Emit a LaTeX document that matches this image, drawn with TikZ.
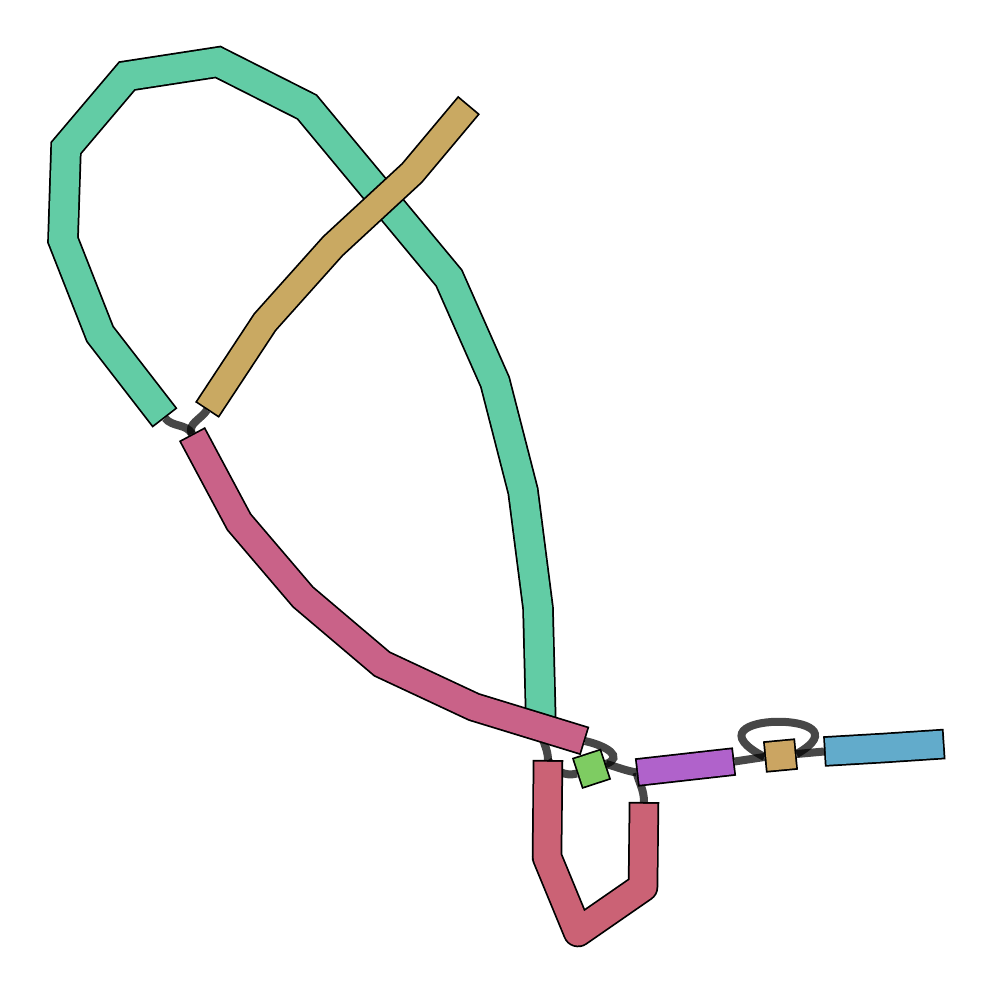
\documentclass[tikz,border=0pt]{standalone}
\usetikzlibrary{calc}

\definecolor{contiggreen}{HTML}{62CCA5}
\definecolor{contigtan}{HTML}{C9A962}
\definecolor{contigpink}{HTML}{C96288}
\definecolor{contigred}{HTML}{CB6275}
\definecolor{contiglime}{HTML}{7ECC62}
\definecolor{contigpurple}{HTML}{B062CB}
\definecolor{contigsand}{HTML}{CBA562}
\definecolor{contigblue}{HTML}{62ABCB}

% contig: [extra options]{colour}{width}{path}
\newcommand{\contig}[4][]{%
  \draw[black, line width=#3+0.035cm, #1] #4;
  \draw[#2, line width=#3, shorten <=0.0175cm, shorten >=0.0175cm, #1] #4;
}

\begin{document}
\begin{tikzpicture}[x=0.01cm, y=-0.01cm, line join=miter,
  link/.style={draw=black, draw opacity=0.72, line width=0.08cm}]

\useasboundingbox (0,0) rectangle (995,1000);

% ---------- contig ends ----------
\coordinate (green-a) at (165,418);
\coordinate (green-b) at (541,728);
\coordinate (tan-a)   at (207,410);
\coordinate (tan-b)   at (469,105);
\coordinate (pink-a)  at (192,434);
\coordinate (pink-b)  at (585,741);
\coordinate (red-a)   at (548,760);
\coordinate (red-b)   at (644,802);
\coordinate (lime-a)  at (577,773.5);
\coordinate (lime-b)  at (606,764);
\coordinate (purple-a) at (636.5,772.5);
\coordinate (purple-b) at (734.5,761.5);
\coordinate (sand-a)  at (764.5,757);
\coordinate (sand-b)  at (796.5,754);
\coordinate (blue-a)  at (824,751.5);
\coordinate (blue-b)  at (944.5,744);

% ---------- links ----------
\draw[link] (green-a) to[out=-52,in=118] (pink-a);
\draw[link] (tan-a) to[out=-123,in=118] (pink-a);
\draw[link] (green-b) to[out=-90,in=90] (red-a);
\draw[link] (pink-b) .. controls +(22,5) and +(18,-7) .. (lime-b);
\draw[link] (red-a) to[out=-60,in=195] (lime-a);
\draw[link] (lime-b) to[out=-15,in=170] (purple-a);
\draw[link] (purple-a) to[out=-75,in=90] (red-b);
\draw[link] (purple-b) -- (sand-a);
\draw[link] (sand-b) -- (blue-a);
\draw[link] (sand-b) .. controls +(78,-44) and +(-88,-46) .. (sand-a);

% ---------- contigs ----------
\contig{contiggreen}{0.28cm}{(green-a) -- (100,334) -- (63,240) -- (66,148)
  -- (127,76) -- (218,62) -- (307,107) -- (449,278) -- (495,382)
  -- (523,491) -- (538,608) -- (green-b)}
\contig{contigtan}{0.25cm}{(tan-a) -- (265,322) -- (333,246) -- (412,173) -- (tan-b)}
\contig[line join=round]{contigred}{0.27cm}{(red-a) -- (547,857) -- (578,932) -- (643,887) -- (red-b)}
\contig{contigpink}{0.26cm}{(pink-a) -- (239,522) -- (303,597) -- (382,664) -- (474,707) -- (pink-b)}
\contig{contiglime}{0.29cm}{(lime-a) -- (lime-b)}
\contig{contigpurple}{0.25cm}{(purple-a) -- (purple-b)}
\contig{contigsand}{0.28cm}{(sand-a) -- (sand-b)}
\contig{contigblue}{0.27cm}{(blue-a) -- (884,748) -- (blue-b)}

\end{tikzpicture}
\end{document}
